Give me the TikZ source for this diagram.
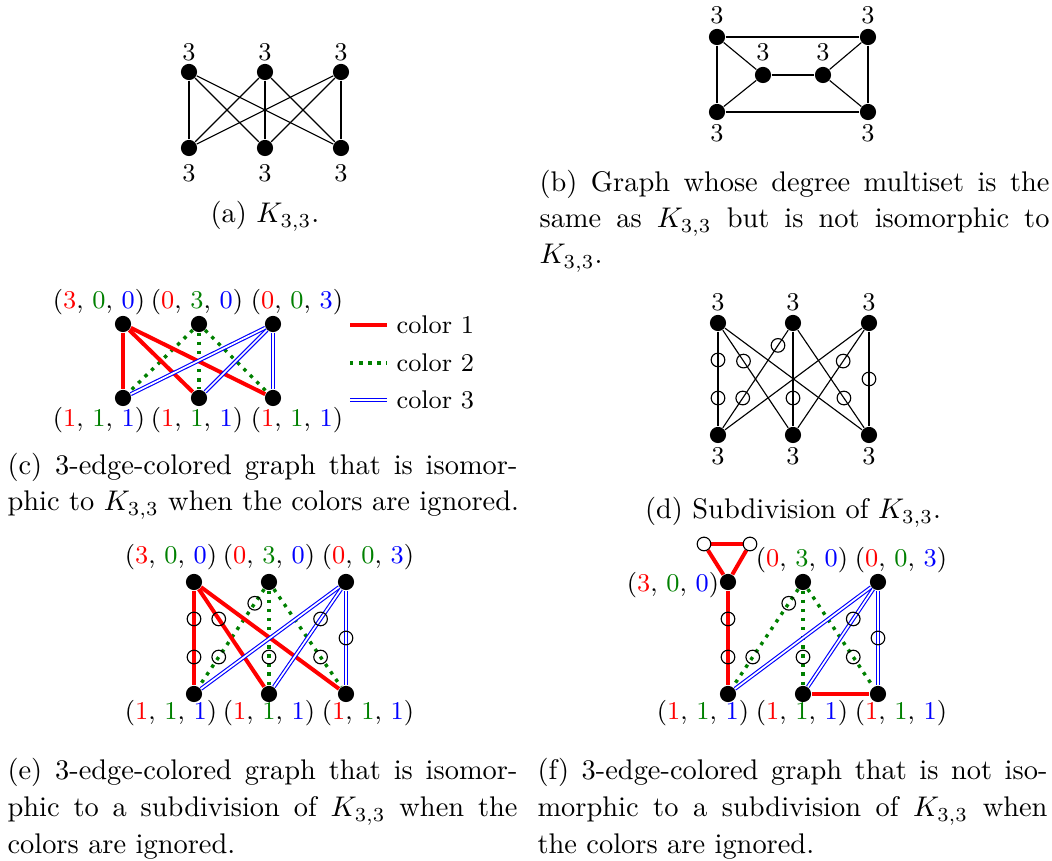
\documentclass[tikz,border=0pt]{standalone}
\usetikzlibrary{backgrounds}
\definecolor{cred}{rgb}{1,0,0}
\definecolor{cgreen}{rgb}{0,0.5,0}
\definecolor{cblue}{rgb}{0,0,1}
\newcommand{\mytrip}[3]{(\textcolor{cred}{#1}, \textcolor{cgreen}{#2}, \textcolor{cblue}{#3})}
\newcommand{\jline}[1]{\makebox[179.5pt][s]{#1}}
\begin{document}
\begin{tikzpicture}[x=0.352pt, y=-0.352pt,
  vtx/.style={circle, fill=black, inner sep=0pt, minimum size=5.7pt},
  sub/.style={circle, draw=black, line width=0.4pt, inner sep=0pt, minimum size=4.8pt},
  lbl/.style={inner sep=0pt, font=\small},
  captionleft/.style={inner sep=0pt, anchor=base west, font=\fontsize{10}{13}\selectfont},
  captioncenter/.style={inner sep=0pt, anchor=base, font=\fontsize{10}{13}\selectfont},
  thinedge/.style={draw=black, line width=0.4pt},
  cone/.style={draw=cred, line width=1.4pt},
  ctwo/.style={draw=cgreen, line width=1.2pt, dotted},
  cthree/.style={draw=cblue, double=white, line width=0.4pt, double distance=0.6pt},
]
\useasboundingbox (0,0) rectangle (1052,861);

% ---------------- (a) ----------------
\foreach \i/\x in {1/189,2/265,3/341}{
  \node[vtx] (aT\i) at (\x,72) {};
  \node[vtx] (aB\i) at (\x,148) {};
  \node[lbl] (aLT\i) at (\x,52) {3};
  \node[lbl] (aLB\i) at (\x,173) {3};
}
\begin{scope}[on background layer]
\foreach \i in {1,2,3}{\foreach \j in {1,2,3}{\draw[thinedge] (aT\i) -- (aB\j);}}
\end{scope}
\node[captioncenter] (capa) at (265,223) {(a) $K_{3,3}$.};

% ---------------- (b) ----------------
\node[vtx] (bTL) at (717,37) {};
\node[vtx] (bTR) at (868,37) {};
\node[vtx] (bML) at (763,75) {};
\node[vtx] (bMR) at (823,75) {};
\node[vtx] (bBL) at (717,112) {};
\node[vtx] (bBR) at (868,112) {};
\node[lbl] (bLTL) at (717,15) {3};
\node[lbl] (bLTR) at (868,15) {3};
\node[lbl] (bLML) at (763,52) {3};
\node[lbl] (bLMR) at (823,52) {3};
\node[lbl] (bLBL) at (717,133) {3};
\node[lbl] (bLBR) at (868,133) {3};
\begin{scope}[on background layer]
\draw[thinedge] (bTL) -- (bTR);
\draw[thinedge] (bTL) -- (bBL);
\draw[thinedge] (bTL) -- (bML);
\draw[thinedge] (bBL) -- (bML);
\draw[thinedge] (bML) -- (bMR);
\draw[thinedge] (bMR) -- (bTR);
\draw[thinedge] (bMR) -- (bBR);
\draw[thinedge] (bTR) -- (bBR);
\draw[thinedge] (bBL) -- (bBR);
\end{scope}
\node[captionleft] (capb1) at (539,192) {\jline{(b) Graph whose degree multiset is the}};
\node[captionleft] (capb2) at (539,228) {\jline{same as $K_{3,3}$ but is not isomorphic to}};
\node[captionleft] (capb3) at (539,264) {$K_{3,3}$.};

% ---------------- (c) ----------------
\foreach \i/\x in {1/123,2/199,3/273}{
  \node[vtx] (cT\i) at (\x,324) {};
  \node[vtx] (cB\i) at (\x,398) {};
}
\node[lbl] (cLT1) at (99,302) {\mytrip{3}{0}{0}};
\node[lbl] (cLT2) at (197,302) {\mytrip{0}{3}{0}};
\node[lbl] (cLT3) at (297,302) {\mytrip{0}{0}{3}};
\foreach \i/\x in {1/99,2/197,3/297}{
  \node[lbl] (cLB\i) at (\x,420) {\mytrip{1}{1}{1}};
}
\begin{scope}[on background layer]
\foreach \j in {1,2,3}{
  \draw[ctwo] (cT2) -- (cB\j);
}
\foreach \j in {1,2,3}{
  \draw[cone] (cT1) -- (cB\j);
}
\foreach \j in {1,2,3}{
  \draw[cthree] (cT3) -- (cB\j);
}
\end{scope}
% legend
\coordinate (lg1a) at (350,325); \coordinate (lg1b) at (387,325);
\coordinate (lg2a) at (350,363); \coordinate (lg2b) at (387,363);
\coordinate (lg3a) at (350,400); \coordinate (lg3b) at (387,400);
\draw[cone] (lg1a) -- (lg1b);
\draw[ctwo] (lg2a) -- (lg2b);
\draw[cthree] (lg3a) -- (lg3b);
\node[lbl, anchor=west] (lgt1) at (396,325) {color 1};
\node[lbl, anchor=west] (lgt2) at (396,363) {color 2};
\node[lbl, anchor=west] (lgt3) at (396,400) {color 3};
\node[captionleft] (capc1) at (7,475) {\jline{(c) 3-edge-colored graph that is isomor-}};
\node[captionleft] (capc2) at (7,511) {phic to $K_{3,3}$ when the colors are ignored.};

% ---------------- (d) ----------------
\foreach \i/\x in {1/718,2/793,3/869}{
  \node[vtx] (dT\i) at (\x,323) {};
  \node[vtx] (dB\i) at (\x,435) {};
  \node[lbl] (dLT\i) at (\x,302) {3};
  \node[lbl] (dLB\i) at (\x,456) {3};
}
\path (dT1.center) -- (dB1.center) node[sub,pos=0.33] (ds1) {} node[sub,pos=0.67] (ds2) {};
\path (dT1.center) -- (dB2.center) node[sub,pos=0.34] (ds3) {};
\path (dT2.center) -- (dB1.center) node[sub,pos=0.2] (ds4) {} node[sub,pos=0.67] (ds5) {};
\path (dT2.center) -- (dB2.center) node[sub,pos=0.67] (ds6) {};
\path (dT3.center) -- (dB2.center) node[sub,pos=0.34] (ds7) {};
\path (dT2.center) -- (dB3.center) node[sub,pos=0.67] (ds8) {};
\path (dT3.center) -- (dB3.center) node[sub,pos=0.5] (ds9) {};
\begin{scope}[on background layer]
\foreach \i in {1,2,3}{\foreach \j in {1,2,3}{\draw[thinedge] (dT\i) -- (dB\j);}}
\end{scope}
\node[captioncenter] (capd) at (793,519) {(d) Subdivision of $K_{3,3}$.};

% ---------------- (e) ----------------
\foreach \i/\x in {1/194,2/269,3/346}{
  \node[vtx] (eT\i) at (\x,582) {};
  \node[vtx] (eB\i) at (\x,694) {};
}
\node[lbl] (eLT1) at (171,557) {\mytrip{3}{0}{0}};
\node[lbl] (eLT2) at (269,557) {\mytrip{0}{3}{0}};
\node[lbl] (eLT3) at (368,557) {\mytrip{0}{0}{3}};
\foreach \i/\x in {1/171,2/269,3/368}{
  \node[lbl] (eLB\i) at (\x,713) {\mytrip{1}{1}{1}};
}
\path (eT1.center) -- (eB1.center) node[sub,pos=0.33] (es1) {} node[sub,pos=0.67] (es2) {};
\path (eT1.center) -- (eB2.center) node[sub,pos=0.33] (es3) {};
\path (eT2.center) -- (eB1.center) node[sub,pos=0.19] (es4) {} node[sub,pos=0.67] (es5) {};
\path (eT2.center) -- (eB2.center) node[sub,pos=0.67] (es6) {};
\path (eT3.center) -- (eB2.center) node[sub,pos=0.33] (es7) {};
\path (eT2.center) -- (eB3.center) node[sub,pos=0.67] (es8) {};
\path (eT3.center) -- (eB3.center) node[sub,pos=0.5] (es9) {};
\begin{scope}[on background layer]
\foreach \j in {1,2,3}{
  \draw[ctwo] (eT2) -- (eB\j);
}
\foreach \j in {1,2,3}{
  \draw[cone] (eT1) -- (eB\j);
}
\foreach \j in {1,2,3}{
  \draw[cthree] (eT3) -- (eB\j);
}
\end{scope}
\node[captionleft] (cape1) at (7,780) {\jline{(e) 3-edge-colored graph that is isomor-}};
\node[captionleft] (cape2) at (7,817) {\jline{phic to a subdivision of $K_{3,3}$ when the}};
\node[captionleft] (cape3) at (7,854) {colors are ignored.};

% ---------------- (f) ----------------
\foreach \i/\x in {1/728,2/803,3/878}{
  \node[vtx] (fT\i) at (\x,582) {};
  \node[vtx] (fB\i) at (\x,694) {};
}
\node[sub] (fc1) at (704,544) {};
\node[sub] (fc2) at (750,544) {};
\node[lbl] (fLT1) at (673,585) {\mytrip{3}{0}{0}};
\node[lbl] (fLT2) at (802,560) {\mytrip{0}{3}{0}};
\node[lbl] (fLT3) at (901,560) {\mytrip{0}{0}{3}};
\foreach \i/\x in {1/703,2/802,3/901}{
  \node[lbl] (fLB\i) at (\x,713) {\mytrip{1}{1}{1}};
}
\path (fT1.center) -- (fB1.center) node[sub,pos=0.33] (fs1) {} node[sub,pos=0.67] (fs2) {};
\path (fT2.center) -- (fB1.center) node[sub,pos=0.19] (fs4) {} node[sub,pos=0.67] (fs5) {};
\path (fT2.center) -- (fB2.center) node[sub,pos=0.67] (fs6) {};
\path (fT3.center) -- (fB2.center) node[sub,pos=0.33] (fs7) {};
\path (fT2.center) -- (fB3.center) node[sub,pos=0.67] (fs8) {};
\path (fT3.center) -- (fB3.center) node[sub,pos=0.5] (fs9) {};
\begin{scope}[on background layer]
\foreach \j in {1,2,3}{
  \draw[ctwo] (fT2) -- (fB\j);
}
\draw[cone] (fT1) -- (fB1);
\draw[cone] (fB2) -- (fB3);
\draw[cone] (fT1) -- (fc1);
\draw[cone] (fc1) -- (fc2);
\draw[cone] (fc2) -- (fT1);
\foreach \j in {1,2,3}{
  \draw[cthree] (fT3) -- (fB\j);
}
\end{scope}
\node[captionleft] (capf1) at (537,780) {\jline{(f) 3-edge-colored graph that is not iso-}};
\node[captionleft] (capf2) at (537,817) {\jline{morphic to a subdivision of $K_{3,3}$ when}};
\node[captionleft] (capf3) at (537,854) {the colors are ignored.};
\end{tikzpicture}
\end{document}
